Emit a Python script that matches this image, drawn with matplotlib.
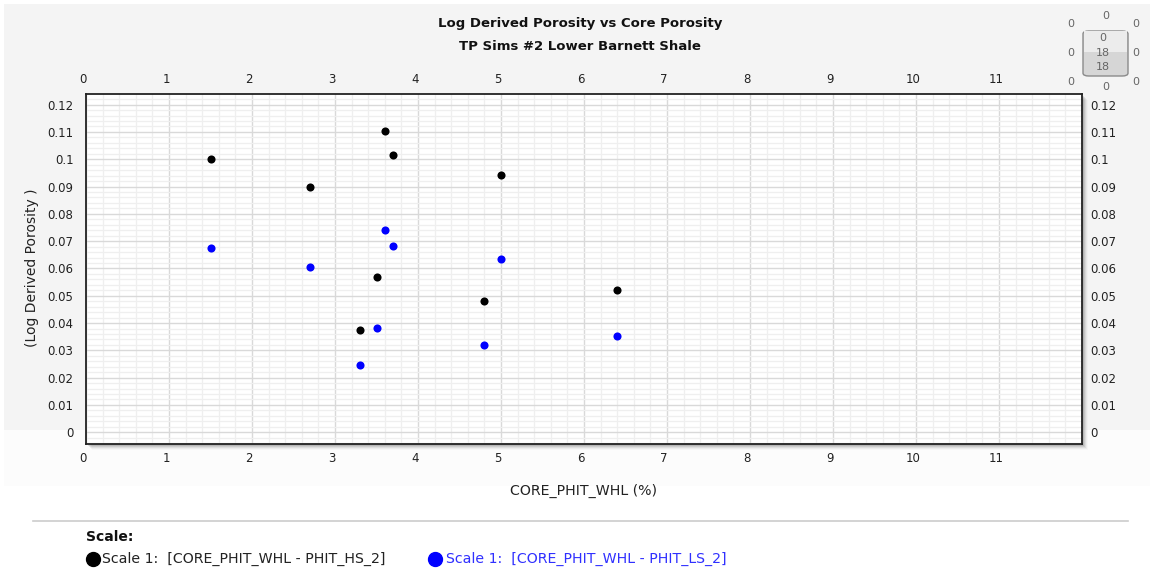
import matplotlib
matplotlib.use("Agg")
import matplotlib.pyplot as plt
import matplotlib.transforms as mtransforms
from matplotlib.patches import Rectangle, FancyBboxPatch
from matplotlib.ticker import MultipleLocator, FuncFormatter
from matplotlib.lines import Line2D

plt.rcParams["font.family"] = ["DejaVu Sans"]

# Core porosity (%) and log-derived porosity (fraction) for each sample
core_phit_whl = [1.5, 2.7, 3.3, 3.5, 3.6, 3.7, 4.8, 5.0, 6.4]
phit_hs_2 = [0.1001, 0.0900, 0.0374, 0.0570, 0.1105, 0.1015, 0.0480, 0.0941, 0.0522]
phit_ls_2 = [0.0675, 0.0604, 0.0245, 0.0382, 0.0741, 0.0681, 0.0321, 0.0634, 0.0352]

x_ticks = list(range(0, 12))
y_ticks = [0, 0.01, 0.02, 0.03, 0.04, 0.05, 0.06, 0.07, 0.08, 0.09, 0.1, 0.11, 0.12]

title_lines = ["Log Derived Porosity vs Core Porosity", "TP Sims #2 Lower Barnett Shale"]
x_label = "CORE_PHIT_WHL (%)"
y_label = "(Log Derived Porosity )"
legend_title = "Scale:"
series_labels = ["Scale 1:  [CORE_PHIT_WHL - PHIT_HS_2]", "Scale 1:  [CORE_PHIT_WHL - PHIT_LS_2]"]
series_colors = ["#000000", "#0000ff"]

W, H = 1151, 574
fig = plt.figure(figsize=(W / 100, H / 100), dpi=100)
fig.patch.set_facecolor("white")


def fx(px):
    return px / W


def fy(py):
    return 1 - py / H


# background panels
fig.patches.append(Rectangle((fx(4), fy(430)), fx(1146), 426 / H, transform=fig.transFigure,
                             facecolor="#f4f4f4", edgecolor="none", zorder=-10))
fig.patches.append(Rectangle((fx(4), fy(486)), fx(1146), 56 / H, transform=fig.transFigure,
                             facecolor="#fcfcfc", edgecolor="none", zorder=-10))

# plot area
L, T, R, B = 86, 94, 1082, 444

# soft drop shadow on the right and bottom
for i, a in enumerate([0.10, 0.08, 0.06, 0.04, 0.02]):
    off = 2 + i
    fig.patches.append(Rectangle((fx(L + off), fy(B + off)), fx(R - L), (B - T) / H,
                                 transform=fig.transFigure, facecolor="black", alpha=a,
                                 edgecolor="none", zorder=-5))

ax = fig.add_axes([fx(L), fy(B), fx(R - L), (B - T) / H])
ax.set_facecolor("white")
ax.set_xlim(0, 12)
ax.set_ylim(-0.0043, 0.1239)

ax.xaxis.set_minor_locator(MultipleLocator(0.2))
ax.yaxis.set_minor_locator(MultipleLocator(0.002))
ax.set_xticks(x_ticks)
ax.set_yticks(y_ticks)
ax.xaxis.set_major_formatter(FuncFormatter(lambda v, p: "%g" % v))
ax.yaxis.set_major_formatter(FuncFormatter(lambda v, p: "%g" % round(v, 3)))

ax.grid(which="major", color="#d9d9d9", linewidth=1.0)
ax.grid(which="minor", color="#efefef", linewidth=0.9)
ax.set_axisbelow(True)

ax.tick_params(which="both", length=0, labelsize=8.5, colors="#222222",
               top=True, labeltop=True, right=True, labelright=True)
ax.tick_params(axis="x", which="major", pad=6)
ax.tick_params(axis="y", which="major", pad=9)
for sp in ax.spines.values():
    sp.set_color("#222222")
    sp.set_linewidth(1.3)

# x tick labels sit a few pixels left of their grid lines
shift_left = mtransforms.ScaledTranslation(-3 / 100, 0, fig.dpi_scale_trans)
for t in ax.xaxis.get_major_ticks():
    t.label1.set_transform(t.label1.get_transform() + shift_left)
    t.label2.set_transform(t.label2.get_transform() + shift_left)
# right-hand y labels hug the frame more closely
shift_in = mtransforms.ScaledTranslation(-4 / 100, 0, fig.dpi_scale_trans)
for t in ax.yaxis.get_major_ticks():
    t.label2.set_transform(t.label2.get_transform() + shift_in)

ax.scatter(core_phit_whl, phit_hs_2, s=34, color=series_colors[0], zorder=3, linewidths=0)
ax.scatter(core_phit_whl, phit_ls_2, s=34, color=series_colors[1], zorder=3, linewidths=0)

# titles
fig.text(fx(580), fy(23), title_lines[0], ha="center", va="center", fontsize=9.5,
         fontweight="bold", color="#111111")
fig.text(fx(580), fy(47), title_lines[1], ha="center", va="center", fontsize=9.5,
         fontweight="bold", color="#111111")

# axis labels
fig.text(fx(583), fy(491), x_label, ha="center", va="center", fontsize=10.2, color="#222222")
fig.text(fx(32), fy(268), y_label, ha="center", va="center", fontsize=10.0, color="#222222",
         rotation=90)

# zoom/navigation widget in the top-right corner
fig.patches.append(FancyBboxPatch((fx(1083), fy(76)), fx(45), 45 / H,
                                  boxstyle="round,pad=0.0,rounding_size=0.005",
                                  transform=fig.transFigure, facecolor="#d6d6d6",
                                  edgecolor="#8a8a8a", linewidth=1.0, zorder=2))
fig.patches.append(Rectangle((fx(1084), fy(52)), fx(43), 21 / H, transform=fig.transFigure,
                             facecolor="#ececec", edgecolor="none", zorder=2))
widget_txt = [(1105.7, 16, "0"), (1070.7, 24, "0"), (1136, 24, "0"),
              (1070.7, 53, "0"), (1136, 53, "0"),
              (1070.7, 82, "0"), (1105.7, 87, "0"), (1136, 82, "0"),
              (1103, 38, "0"), (1103, 53, "18"), (1103, 67, "18")]
for x, y, s in widget_txt:
    fig.text(fx(x), fy(y), s, ha="center", va="center", fontsize=8, color="#666666", zorder=3)

# legend area
fig.add_artist(Line2D([fx(33), fx(1128)], [fy(521), fy(521)], color="#cccccc", linewidth=1.2))
fig.text(fx(86), fy(537), legend_title, ha="left", va="center", fontsize=10,
         fontweight="bold", color="#111111")
fig.add_artist(Line2D([fx(93)], [fy(559)], marker="o", markersize=10, color=series_colors[0],
                      linestyle="none"))
fig.text(fx(102), fy(559), series_labels[0], ha="left", va="center", fontsize=10.2,
         color="#222222")
fig.add_artist(Line2D([fx(435)], [fy(559)], marker="o", markersize=10, color=series_colors[1],
                      linestyle="none"))
fig.text(fx(446), fy(559), series_labels[1], ha="left", va="center", fontsize=10.2,
         color="#3030ff")

fig.savefig("out.png", dpi=100, facecolor=fig.get_facecolor())
